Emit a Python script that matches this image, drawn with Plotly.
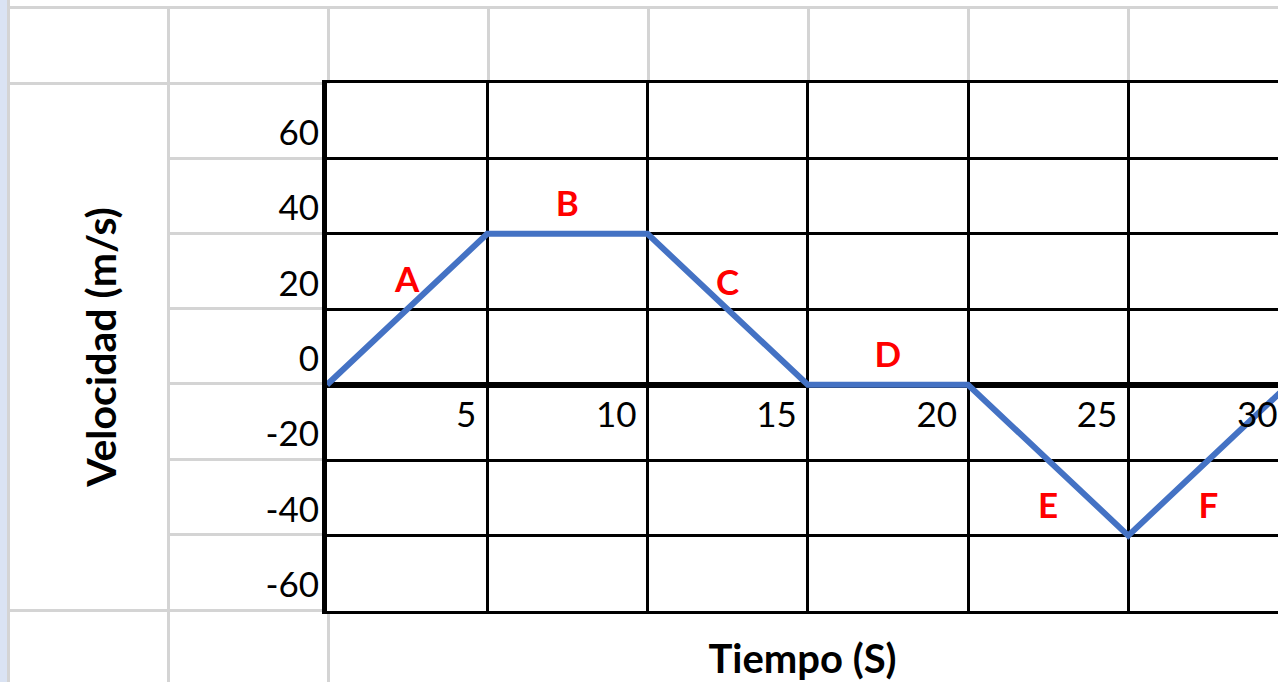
import plotly.graph_objects as go

# --- data -------------------------------------------------------------
tiempo = [0, 5, 10, 15, 20, 25, 30]
velocidad = [0, 40, 40, 0, 0, -40, 0]

tramo_etiquetas = ["A", "B", "C", "D", "E", "F"]
tramo_t = [2.5, 7.5, 12.5, 17.5, 22.5, 27.5]
tramo_v = [27, 47, 26, 7, -33, -33]

y_ticks = [-60, -40, -20, 0, 20, 40, 60, 80]
y_tick_text = ["-60", "-40", "-20", "0", "20", "40", "60", ""]
x_ticks = [5, 10, 15, 20, 25, 30]
x_tick_text = ["5", "10", "15", "20", "25", "30"]

# --- page geometry (pixels) -------------------------------------------
W, H = 1278, 682
L, T, B, R = 327, 83, 71, 0
PW, PH = W - L - R, H - T - B

FONT = "Lato"
GRAY = "#D4D4D4"


def px_x(p):
    return (p - L) / PW


def px_y(p):
    return (H - B - p) / PH


# worksheet cell borders around the chart
col_edges = [8.5, 168.5, 328.5, 488.5, 648.5, 808.5, 968.5, 1128.5]
row_edges = [7.5, 83.5, 158.5, 233.5, 308.5, 383.5, 459.5, 534.5, 610.5]

shapes = []


def seg(x0, y0, x1, y1):
    shapes.append(dict(type="line", xref="paper", yref="paper",
                       x0=px_x(x0), y0=px_y(y0), x1=px_x(x1), y1=px_y(y1),
                       line=dict(color=GRAY, width=3), layer="below"))


shapes.append(dict(type="rect", xref="paper", yref="paper",
                   x0=px_x(0), x1=px_x(7), y0=px_y(0), y1=px_y(H),
                   fillcolor="#DAE3F3", line=dict(width=0), layer="below"))
seg(col_edges[0], 0, col_edges[0], H)
seg(col_edges[0], row_edges[0], W, row_edges[0])
for c in col_edges[1:]:
    seg(c, row_edges[0], c, row_edges[1])
seg(col_edges[0], row_edges[1], L - 2, row_edges[1])
seg(col_edges[1], row_edges[1], col_edges[1], H)
for r in row_edges[2:]:
    seg(col_edges[1], r, L - 2, r)
seg(col_edges[0], row_edges[-1], col_edges[1], row_edges[-1])
seg(col_edges[2], row_edges[-1] + 1, col_edges[2], H)

fig = go.Figure()

fig.add_trace(go.Scatter(
    x=tiempo, y=velocidad, mode="lines",
    line=dict(color="#4472C4", width=6),
    hoverinfo="skip", showlegend=False,
))
# carrier for the tick-label axis that sits on the zero line
fig.add_trace(go.Scatter(
    x=tiempo, y=velocidad, mode="lines", xaxis="x2", yaxis="y",
    line=dict(color="rgba(0,0,0,0)", width=0),
    hoverinfo="skip", showlegend=False,
))

fig.add_trace(go.Scatter(
    x=tramo_t, y=tramo_v, mode="text", text=tramo_etiquetas,
    textfont=dict(family=FONT, size=35, color="#FF0000", weight="bold"),
    textposition="middle center", hoverinfo="skip", showlegend=False,
))

px_per_s = 32.05
x_range = [0, PW / px_per_s]
# label axis is offset a few pixels so each number ends just left of its grid line
lab_off = 11 / px_per_s
x2_range = [x_range[0] + lab_off, x_range[1] + lab_off]

fig.update_layout(
    width=W, height=H,
    margin=dict(l=L, r=R, t=T, b=B, pad=0),
    paper_bgcolor="white",
    plot_bgcolor="rgba(0,0,0,0)",
    shapes=shapes,
    showlegend=False,
    xaxis=dict(
        range=x_range, tickvals=x_ticks, showticklabels=False,
        showgrid=True, gridcolor="black", gridwidth=3,
        zeroline=False, showline=True, mirror=True,
        linecolor="black", linewidth=3, ticks="",
        title=dict(text="<b>Tiempo (S)</b>", standoff=32,
                   font=dict(family=FONT, size=40, color="black")),
    ),
    xaxis2=dict(
        range=x2_range, overlaying="x", anchor="free",
        position=60 / 140, side="bottom",
        tickvals=x_ticks, ticktext=x_tick_text, ticks="",
        ticklabelposition="outside left",
        showgrid=False, zeroline=False, showline=False,
        ticklabelstandoff=6,
        tickfont=dict(family=FONT, size=35, color="black"),
    ),
    yaxis=dict(
        range=[-60, 80], tickvals=y_ticks, ticktext=y_tick_text,
        showgrid=True, gridcolor="black", gridwidth=3,
        zeroline=True, zerolinecolor="black", zerolinewidth=6,
        showline=True, linecolor="black", linewidth=5, ticks="",
        ticklabelshift=-26, ticklabelstandoff=-4,
        tickfont=dict(family=FONT, size=35, color="black"),
        title=dict(text="<b>Velocidad (m/s)</b>", standoff=138,
                   font=dict(family=FONT, size=41, color="black")),
    ),
)

fig.write_html("out.html", config={"displayModeBar": False})
